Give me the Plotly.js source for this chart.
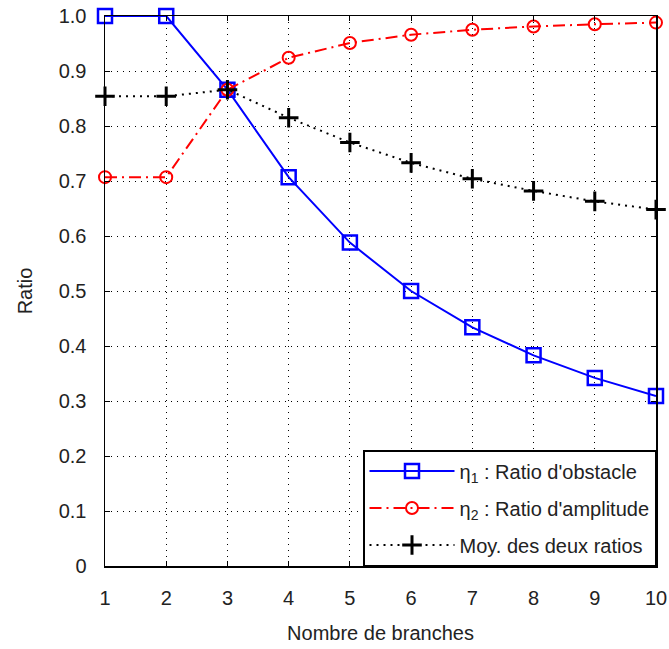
<!DOCTYPE html>
<html>
<head>
<meta charset="utf-8">
<script src="https://cdn.plot.ly/plotly-3.0.1.min.js"></script>
<style>html,body{margin:0;padding:0;background:#fff;}#chart{width:669px;height:649px;}</style>
</head>
<body>
<div id="chart"></div>
<script>
const branches = [1, 2, 3, 4, 5, 6, 7, 8, 9, 10];
const eta1 = [1.0, 1.0, 0.866, 0.707, 0.588, 0.5, 0.434, 0.383, 0.342, 0.309];
const eta2 = [0.707, 0.707, 0.866, 0.924, 0.951, 0.966, 0.975, 0.981, 0.985, 0.988];
const moyenne = [0.854, 0.854, 0.866, 0.815, 0.770, 0.733, 0.704, 0.682, 0.663, 0.648];
const yTickVals = [0, 0.1, 0.2, 0.3, 0.4, 0.5, 0.6, 0.7, 0.8, 0.9, 1.0];
const yTickText = ["0", "0.1", "0.2", "0.3", "0.4", "0.5", "0.6", "0.7", "0.8", "0.9", "1.0"];
const names = ["η<sub>1</sub> : Ratio d'obstacle", "η<sub>2</sub> : Ratio d'amplitude", "Moy. des deux ratios"];

const FONT = 'Liberation Sans, Arial, sans-serif';
const traces = [
  {x: branches, y: eta1, name: names[0], legendgroup: 'a', mode: 'lines+markers', cliponaxis: false,
   line: {color: '#0000ff', width: 2},
   marker: {symbol: 'square-open', size: 14, color: '#0000ff', line: {width: 2.5, color: '#0000ff'}}},
  {x: branches, y: eta2, name: names[1], legendgroup: 'b', mode: 'lines+markers', cliponaxis: false,
   line: {color: '#ff0000', width: 2, dash: '12px,5px,2px,5px'},
   marker: {symbol: 'circle-open', size: 12, color: '#ff0000', line: {width: 2, color: '#ff0000'}}},
  {x: branches, y: moyenne, name: names[2], legendgroup: 'c', mode: 'lines+markers', cliponaxis: false,
   line: {color: '#000000', width: 2, dash: '2px,5px'},
   marker: {symbol: 'cross-thin-open', size: 14, color: '#000000', line: {width: 3, color: '#000000'}}}
];

const axisCommon = {
  showline: true, mirror: 'ticks', linecolor: '#000', linewidth: 1.5,
  ticks: 'inside', ticklen: 5, tickcolor: '#000',
  showgrid: true, gridcolor: '#000', griddash: '1px,5px', gridwidth: 1,
  zeroline: false,
  tickfont: {family: FONT, size: 20, color: '#222'}
};

const layout = {
  width: 669, height: 649,
  margin: {l: 105, r: 13, t: 16, b: 83},
  paper_bgcolor: '#fff', plot_bgcolor: '#fff',
  showlegend: true,
  xaxis: Object.assign({}, axisCommon, {
    range: [1, 10], tickvals: branches, ticktext: branches.map(String),
    ticklabelstandoff: 13,
    title: {text: 'Nombre de branches', standoff: 18,
            font: {family: FONT, size: 20, color: '#222'}}
  }),
  yaxis: Object.assign({}, axisCommon, {
    range: [0, 1], tickvals: yTickVals, ticktext: yTickText,
    ticklabelstandoff: 13,
    title: {text: 'Ratio', standoff: 20,
            font: {family: FONT, size: 20, color: '#222'}}
  }),
  legend: {x: 1, y: 0, xanchor: 'right', yanchor: 'bottom',
           bgcolor: '#fff', bordercolor: '#000', borderwidth: 1.5,
           font: {family: FONT, size: 20, color: '#222'},
           traceorder: 'grouped', tracegroupgap: 8, itemwidth: 85}
};

Plotly.newPlot('chart', traces, layout, {displayModeBar: false, staticPlot: true});
</script>
</body>
</html>
